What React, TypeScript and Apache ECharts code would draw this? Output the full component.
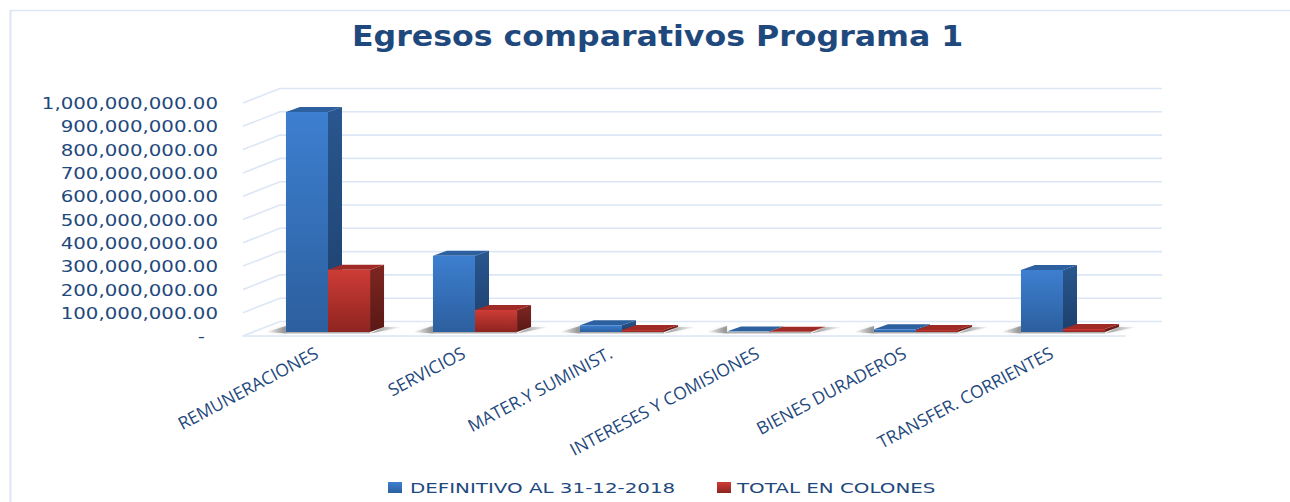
import React, { useEffect, useRef } from "react";
import * as echarts from "echarts";

const chartTitle = "Egresos comparativos Programa 1";
const categories = ["REMUNERACIONES", "SERVICIOS", "MATER.Y SUMINIST.", "INTERESES Y COMISIONES", "BIENES DURADEROS", "TRANSFER. CORRIENTES"];
const seriesNames = ["DEFINITIVO AL 31-12-2018", "TOTAL EN COLONES"];
const definitivo = [944000000, 327000000, 29000000, 2000000, 12000000, 266000000];
const totalColones = [267000000, 94000000, 9000000, 1000000, 9000000, 13000000];
const tickValues = [0, 100000000, 200000000, 300000000, 400000000, 500000000, 600000000, 700000000, 800000000, 900000000, 1000000000];
const tickLabels = ["-", "100,000,000.00", "200,000,000.00", "300,000,000.00", "400,000,000.00", "500,000,000.00", "600,000,000.00", "700,000,000.00", "800,000,000.00", "900,000,000.00", "1,000,000,000.00"];

const TEXT = "#1f497d";
const GRID = "#dce6f5";
const DX = 37, DY = -14.5;
const BAR_DX = 14, BAR_DY = -5, SHIFT = 11.5, LIFT = 4;

const grad = (a: string, b: string) => new echarts.graphic.LinearGradient(0, 0, 0, 1, [{ offset: 0, color: a }, { offset: 1, color: b }]);

const box = (side: "left" | "right", c: any) => (params: any, api: any) => {
  const i = api.value(0), v = api.value(1);
  const base = api.coord([i, 0]), top = api.coord([i, v]);
  const w = api.size([1, 0])[0] * 0.286;
  const mid = base[0] + SHIFT;
  const x0 = side === "left" ? mid - w : mid, x1 = x0 + w;
  const yb = base[1] - LIFT, yt = top[1] - LIFT;
  const children: any[] = [
    { type: "polygon", shape: { points: [[x1, yb], [x1 + BAR_DX, yb + BAR_DY], [x1 + BAR_DX, yt + BAR_DY], [x1, yt]] }, style: { fill: grad(c.sideA, c.sideB) } },
    { type: "polygon", shape: { points: [[x0, yt], [x0 + BAR_DX, yt + BAR_DY], [x1 + BAR_DX, yt + BAR_DY], [x1, yt]] }, style: { fill: c.top } },
  ];
  if (yb - yt > 0.5) children.push({ type: "rect", shape: { x: x0, y: yt, width: w, height: yb - yt }, style: { fill: grad(c.frontA, c.frontB) } });
  return { type: "group", children };
};

const BLUE = { frontA: "#3d7fd0", frontB: "#2c5f9e", sideA: "#29578f", sideB: "#1d3f6c", top: "#2d609f" };
const RED = { frontA: "#ce3c36", frontB: "#8e2420", sideA: "#7f2622", sideB: "#591814", top: "#a02b26" };

const shadowItem = (params: any, api: any) => {
  const base = api.coord([api.value(0), 0]);
  const w = api.size([1, 0])[0] * 0.286;
  const mid = base[0] + SHIFT, yb = base[1] - LIFT;
  const l = mid - w, r = mid + w;
  const fadeL = new echarts.graphic.LinearGradient(0, 0, 1, 0, [{ offset: 0, color: "rgba(90,90,90,0)" }, { offset: 1, color: "rgba(90,90,90,0.6)" }]);
  const fadeR = new echarts.graphic.LinearGradient(0, 0, 1, 0, [{ offset: 0, color: "rgba(90,90,90,0.6)" }, { offset: 1, color: "rgba(90,90,90,0)" }]);
  const soft = { shadowBlur: 3, shadowColor: "rgba(90,90,90,0.35)" };
  return {
    type: "group",
    children: [
      { type: "polygon", shape: { points: [[l - 20, yb], [l, yb - 6], [l, yb + 1.5]] }, style: { fill: fadeL, ...soft } },
      { type: "polygon", shape: { points: [[r, yb + 1.5], [r + BAR_DX, yb + BAR_DY], [r + 32, yb + BAR_DY]] }, style: { fill: fadeR, ...soft } },
      { type: "rect", shape: { x: l, y: yb, width: w * 2, height: 1.5 }, style: { fill: "rgba(120,120,120,0.6)" } },
    ],
  };
};

const wallItem = (params: any, api: any) => {
  const v = api.value(1);
  const cs = params.coordSys;
  const y = api.coord([0, v])[1];
  return {
    type: "polyline",
    shape: { points: [[cs.x, y], [cs.x + DX, y + DY], [cs.x + cs.width + DX, y + DY]] },
    style: { fill: "none", stroke: GRID, lineWidth: 1.6 },
  };
};

const labelItem = (params: any, api: any) => {
  const idx = params.dataIndex;
  const y = api.coord([0, api.value(1)])[1];
  return {
    type: "text",
    x: idx === 0 ? 205 : 218,
    y: y + 1,
    scaleX: 1.32,
    style: { text: tickLabels[idx], textAlign: "right", textVerticalAlign: "middle", fill: TEXT, fontFamily: "DejaVu Sans", fontSize: 15 },
  };
};

const stretchedText = (text: string, x: number, y: number, scaleX: number, fontSize: number, fontWeight: string) => ({
  type: "text",
  x,
  y,
  scaleX,
  style: { text, fill: TEXT, fontFamily: "DejaVu Sans", fontSize, fontWeight, textVerticalAlign: "middle" },
});

export default function App() {
  const ref = useRef<HTMLDivElement>(null);
  useEffect(() => {
    const chart = echarts.init(ref.current!, undefined, { renderer: "svg" });
    chart.setOption({
      animation: false,
      backgroundColor: "#ffffff",
      grid: { left: 243, top: 103, width: 882, height: 233 },
      xAxis: {
        type: "category",
        data: categories,
        axisLine: { show: true, lineStyle: { color: GRID, width: 1.6 } },
        axisTick: { show: false },
        axisLabel: { interval: 0, rotate: 28, margin: 15, color: TEXT, fontFamily: "Open Sans", fontSize: 17.5 },
      },
      yAxis: {
        type: "value",
        min: 0,
        max: 1000000000,
        interval: 100000000,
        axisLine: { show: false },
        axisTick: { show: false },
        axisLabel: { show: false },
        splitLine: { show: false },
      },
      graphic: [
        { type: "line", shape: { x1: 10.5, y1: 10, x2: 10.5, y2: 502 }, style: { stroke: GRID, lineWidth: 2 } },
        { type: "line", shape: { x1: 10, y1: 10.5, x2: 1290, y2: 10.5 }, style: { stroke: GRID, lineWidth: 1.5 } },
        stretchedText(chartTitle, 352, 36, 1.15, 27.5, "bold"),
        { type: "rect", shape: { x: 388, y: 482, width: 14, height: 11 }, style: { fill: grad("#3d7fd0", "#2c5f9e") } },
        stretchedText(seriesNames[0], 410, 487.5, 1.37, 14.5, "normal"),
        { type: "rect", shape: { x: 717, y: 482, width: 14, height: 11 }, style: { fill: grad("#ce3c36", "#8e2420") } },
        stretchedText(seriesNames[1], 737, 487.5, 1.37, 14.5, "normal"),
      ],
      series: [
        { type: "custom", name: "walls", silent: true, z: 1, renderItem: wallItem, data: tickValues.map((v) => [0, v]), encode: { x: 0, y: 1 } },
        { type: "custom", name: "ticks", silent: true, z: 1, renderItem: labelItem, data: tickValues.map((v) => [0, v]), encode: { x: 0, y: 1 } },
        { type: "custom", name: "shadows", silent: true, z: 2, renderItem: shadowItem, data: categories.map((_, i) => [i, 0]), encode: { x: 0, y: 1 } },
        { type: "custom", name: seriesNames[0], z: 3, renderItem: box("left", BLUE), data: definitivo.map((v, i) => [i, v]), encode: { x: 0, y: 1 } },
        { type: "custom", name: seriesNames[1], z: 4, renderItem: box("right", RED), data: totalColones.map((v, i) => [i, v]), encode: { x: 0, y: 1 } },
      ],
    });
    return () => chart.dispose();
  }, []);
  return <div ref={ref} style={{ position: "absolute", left: 0, top: 0, width: 1290, height: 502 }} />;
}
